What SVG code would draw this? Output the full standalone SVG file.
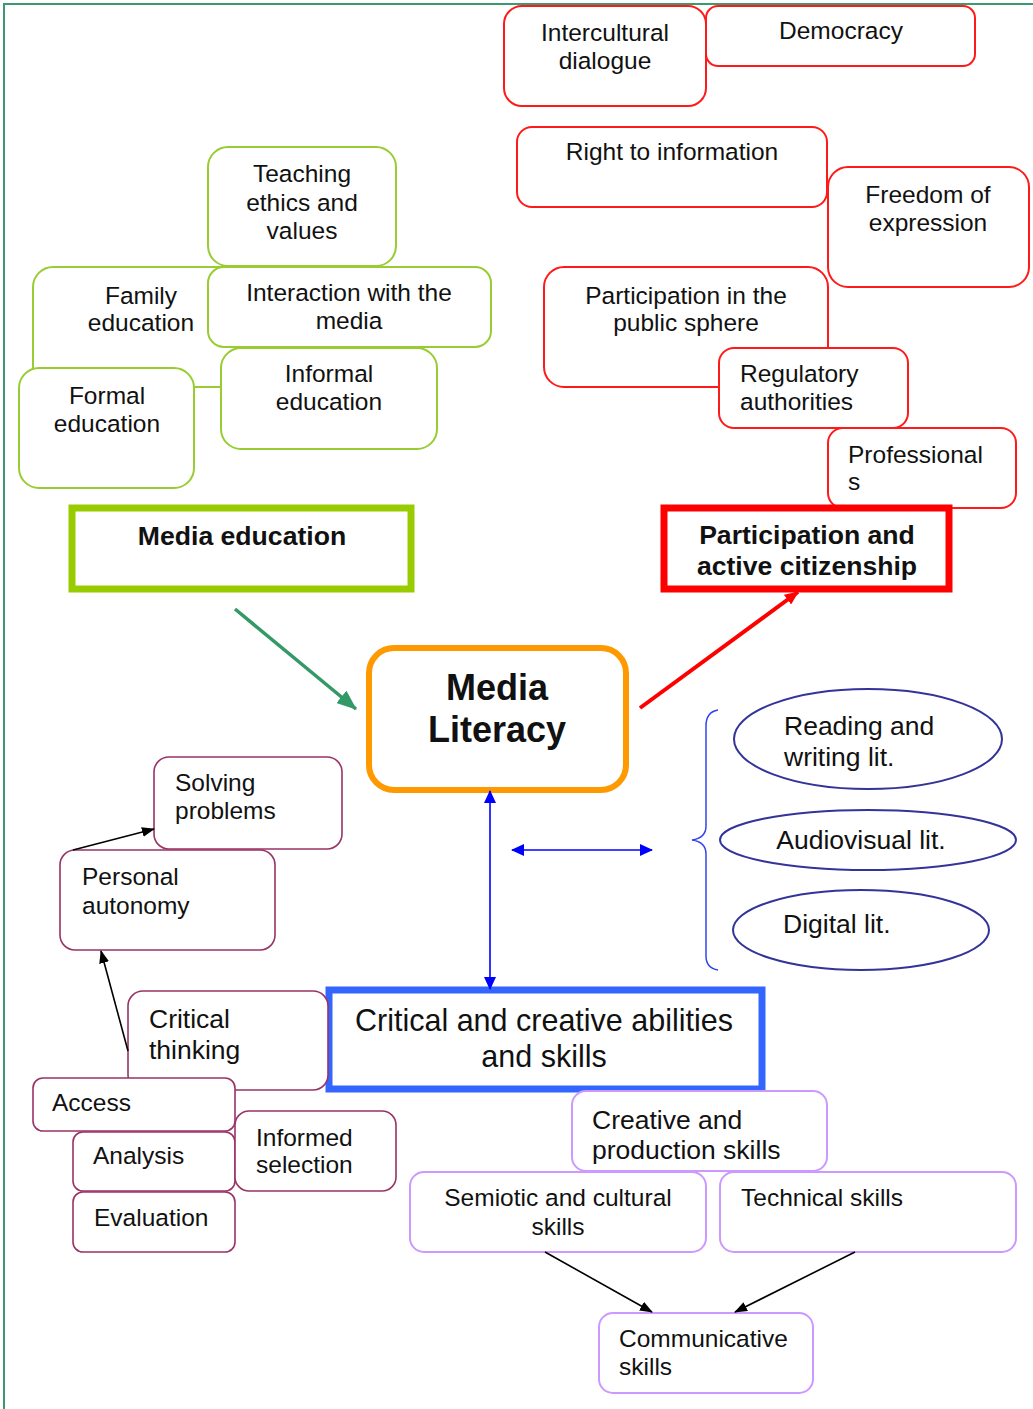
<svg xmlns="http://www.w3.org/2000/svg" width="1033" height="1409" viewBox="0 0 1033 1409">
  <style>
    text { font-family: "Liberation Sans", Arial, sans-serif; font-size: 24.5px; fill: #111; }
    .c { text-anchor: middle; }
    .big { font-size: 26.5px; }
    .bold { font-weight: bold; font-size: 26.6px; }
    .title { font-weight: bold; font-size: 36px; }
    .skills { font-size: 30.5px; }
    .box { fill: #fff; }
    .green { stroke: #99cc33; stroke-width: 2; }
    .red { stroke: #ff1a1a; stroke-width: 2; }
    .maroon { stroke: #993366; stroke-width: 1.6; }
    .violet { stroke: #cc99ff; stroke-width: 2; }
    .oval { fill: #fff; stroke: #333399; stroke-width: 2; }
  </style>
  <defs>
    <marker id="head-green" markerUnits="userSpaceOnUse" markerWidth="20" markerHeight="16" refX="19" refY="8" orient="auto">
      <path d="M0,0 L20,8 L0,16 Z" fill="#339966"/>
    </marker>
    <marker id="head-red" markerUnits="userSpaceOnUse" markerWidth="14" markerHeight="12" refX="13" refY="6" orient="auto">
      <path d="M0,0 L14,6 L0,12 Z" fill="#ff0000"/>
    </marker>
    <marker id="head-blue" markerUnits="userSpaceOnUse" markerWidth="13" markerHeight="12" refX="12" refY="6" orient="auto-start-reverse">
      <path d="M0,0 L13,6 L0,12 Z" fill="#0000ff"/>
    </marker>
    <marker id="head-black" markerUnits="userSpaceOnUse" markerWidth="13" markerHeight="10" refX="12" refY="5" orient="auto">
      <path d="M0,0 L13,5 L0,10 Z" fill="#000"/>
    </marker>
  </defs>

  <!-- page frame -->
  <path d="M4,1409 L4,4 L1033,4" fill="none" stroke="#3d9970" stroke-width="2"/>

  <!-- Media education cluster -->
  <g id="family-education">
    <rect class="box green" x="33" y="267" width="260" height="120" rx="20"/>
    <text class="c" x="141" y="304">Family</text>
    <text class="c" x="141" y="331">education</text>
  </g>
  <g id="teaching-ethics">
    <rect class="box green" x="208" y="147" width="188" height="119" rx="20"/>
    <text class="c" x="302" y="182">Teaching</text>
    <text class="c" x="302" y="211">ethics and</text>
    <text class="c" x="302" y="239">values</text>
  </g>
  <g id="interaction-media">
    <rect class="box green" x="208" y="267" width="283" height="80" rx="16"/>
    <text class="c" x="349" y="301">Interaction with the</text>
    <text class="c" x="349" y="329">media</text>
  </g>
  <g id="informal-education">
    <rect class="box green" x="221" y="348" width="216" height="101" rx="20"/>
    <text class="c" x="329" y="382">Informal</text>
    <text class="c" x="329" y="410">education</text>
  </g>
  <g id="formal-education">
    <rect class="box green" x="19" y="368" width="175" height="120" rx="20"/>
    <text class="c" x="107" y="404">Formal</text>
    <text class="c" x="107" y="432">education</text>
  </g>

  <!-- Citizenship cluster -->
  <g id="intercultural-dialogue">
    <rect class="box red" x="504" y="6" width="202" height="100" rx="18"/>
    <text class="c" x="605" y="41">Intercultural</text>
    <text class="c" x="605" y="69">dialogue</text>
  </g>
  <g id="democracy">
    <rect class="box red" x="706" y="6" width="269" height="60" rx="12"/>
    <text class="c" x="841" y="39">Democracy</text>
  </g>
  <g id="right-to-information">
    <rect class="box red" x="517" y="127" width="310" height="80" rx="15"/>
    <text class="c" x="672" y="160">Right to information</text>
  </g>
  <g id="freedom-of-expression">
    <rect class="box red" x="828" y="167" width="201" height="120" rx="20"/>
    <text class="c" x="928" y="203">Freedom of</text>
    <text class="c" x="928" y="231">expression</text>
  </g>
  <g id="public-sphere">
    <rect class="box red" x="544" y="267" width="284" height="120" rx="20"/>
    <text class="c" x="686" y="304">Participation in the</text>
    <text class="c" x="686" y="331">public sphere</text>
  </g>
  <g id="regulatory-authorities">
    <rect class="box red" x="719" y="348" width="189" height="80" rx="15"/>
    <text x="740" y="382">Regulatory</text>
    <text x="740" y="410">authorities</text>
  </g>
  <g id="professionals">
    <rect class="box red" x="828" y="428" width="188" height="80" rx="15"/>
    <text x="848" y="463">Professional</text>
    <text x="848" y="490">s</text>
  </g>

  <!-- Main headings -->
  <g id="media-education">
    <rect x="72" y="508" width="339" height="81" fill="#fff" stroke="#99cc00" stroke-width="7"/>
    <text class="c bold" x="242" y="545">Media education</text>
  </g>
  <g id="participation-citizenship">
    <rect x="664" y="508" width="285" height="81" fill="#fff" stroke="#ff0000" stroke-width="7"/>
    <text class="c bold" x="807" y="544">Participation and</text>
    <text class="c bold" x="807" y="575">active citizenship</text>
  </g>
  <g id="media-literacy">
    <rect x="369" y="648" width="257" height="142" rx="25" fill="#fff" stroke="#ff9900" stroke-width="6"/>
    <text class="c title" x="497" y="700">Media</text>
    <text class="c title" x="497" y="742">Literacy</text>
  </g>

  <!-- Literacies -->
  <g id="reading-writing">
    <ellipse class="oval" cx="868" cy="739" rx="134" ry="50"/>
    <text class="big" x="784" y="735">Reading and</text>
    <text class="big" x="784" y="766">writing lit.</text>
  </g>
  <g id="audiovisual">
    <ellipse class="oval" cx="868" cy="840" rx="148" ry="30"/>
    <text class="c big" x="861" y="849">Audiovisual lit.</text>
  </g>
  <g id="digital">
    <ellipse class="oval" cx="861" cy="930" rx="128" ry="40"/>
    <text class="big" x="783" y="933">Digital lit.</text>
  </g>

  <!-- Abilities and skills -->
  <g id="critical-creative">
    <rect x="329" y="990" width="433" height="99" fill="#fff" stroke="#3366ff" stroke-width="7"/>
    <text class="c skills" x="544" y="1031">Critical and creative abilities</text>
    <text class="c skills" x="544" y="1067">and skills</text>
  </g>

  <g id="solving-problems">
    <rect class="box maroon" x="154" y="757" width="188" height="92" rx="15"/>
    <text x="175" y="791">Solving</text>
    <text x="175" y="819">problems</text>
  </g>
  <g id="personal-autonomy">
    <rect class="box maroon" x="60" y="850" width="215" height="100" rx="15"/>
    <text x="82" y="885">Personal</text>
    <text x="82" y="914">autonomy</text>
  </g>
  <g id="critical-thinking">
    <rect class="box maroon" x="128" y="991" width="200" height="99" rx="15"/>
    <text class="big" x="149" y="1028">Critical</text>
    <text class="big" x="149" y="1059">thinking</text>
  </g>
  <g id="access">
    <rect class="box maroon" x="33" y="1078" width="202" height="53" rx="10"/>
    <text x="52" y="1111">Access</text>
  </g>
  <g id="analysis">
    <rect class="box maroon" x="73" y="1132" width="162" height="59" rx="10"/>
    <text x="93" y="1164">Analysis</text>
  </g>
  <g id="informed-selection">
    <rect class="box maroon" x="235" y="1111" width="161" height="80" rx="14"/>
    <text x="256" y="1146">Informed</text>
    <text x="256" y="1173">selection</text>
  </g>
  <g id="evaluation">
    <rect class="box maroon" x="73" y="1192" width="162" height="60" rx="10"/>
    <text x="94" y="1226">Evaluation</text>
  </g>

  <g id="creative-production">
    <rect class="box violet" x="572" y="1091" width="255" height="80" rx="14"/>
    <text class="big" x="592" y="1129">Creative and</text>
    <text class="big" x="592" y="1159">production skills</text>
  </g>
  <g id="semiotic-cultural">
    <rect class="box violet" x="410" y="1172" width="296" height="80" rx="14"/>
    <text class="c" x="558" y="1206">Semiotic and cultural</text>
    <text class="c" x="558" y="1235">skills</text>
  </g>
  <g id="technical">
    <rect class="box violet" x="720" y="1172" width="296" height="80" rx="14"/>
    <text x="741" y="1206">Technical skills</text>
  </g>
  <g id="communicative">
    <rect class="box violet" x="599" y="1313" width="214" height="80" rx="14"/>
    <text x="619" y="1347">Communicative</text>
    <text x="619" y="1375">skills</text>
  </g>

  <!-- Connectors -->
  <g id="connectors" fill="none">
    <line x1="235" y1="609" x2="356" y2="709" stroke="#339966" stroke-width="3.5" marker-end="url(#head-green)"/>
    <line x1="640" y1="708" x2="798" y2="592" stroke="#ff0000" stroke-width="4" marker-end="url(#head-red)"/>
    <line x1="490" y1="791" x2="490" y2="989" stroke="#0000ff" stroke-width="1.6" marker-start="url(#head-blue)" marker-end="url(#head-blue)"/>
    <line x1="512" y1="850" x2="652" y2="850" stroke="#0000ff" stroke-width="1.6" marker-start="url(#head-blue)" marker-end="url(#head-blue)"/>
    <path d="M718,710 Q706,712 706,726 L706,826 Q706,838 692,840 Q706,842 706,854 L706,956 Q706,968 718,970" stroke="#3344ee" stroke-width="1.5"/>
    <line x1="73" y1="850" x2="154" y2="829" stroke="#000" stroke-width="1.6" marker-end="url(#head-black)"/>
    <line x1="128" y1="1051" x2="101" y2="951" stroke="#000" stroke-width="1.6" marker-end="url(#head-black)"/>
    <line x1="545" y1="1252" x2="652" y2="1312" stroke="#000" stroke-width="1.6" marker-end="url(#head-black)"/>
    <line x1="855" y1="1252" x2="735" y2="1312" stroke="#000" stroke-width="1.6" marker-end="url(#head-black)"/>
  </g>
</svg>
